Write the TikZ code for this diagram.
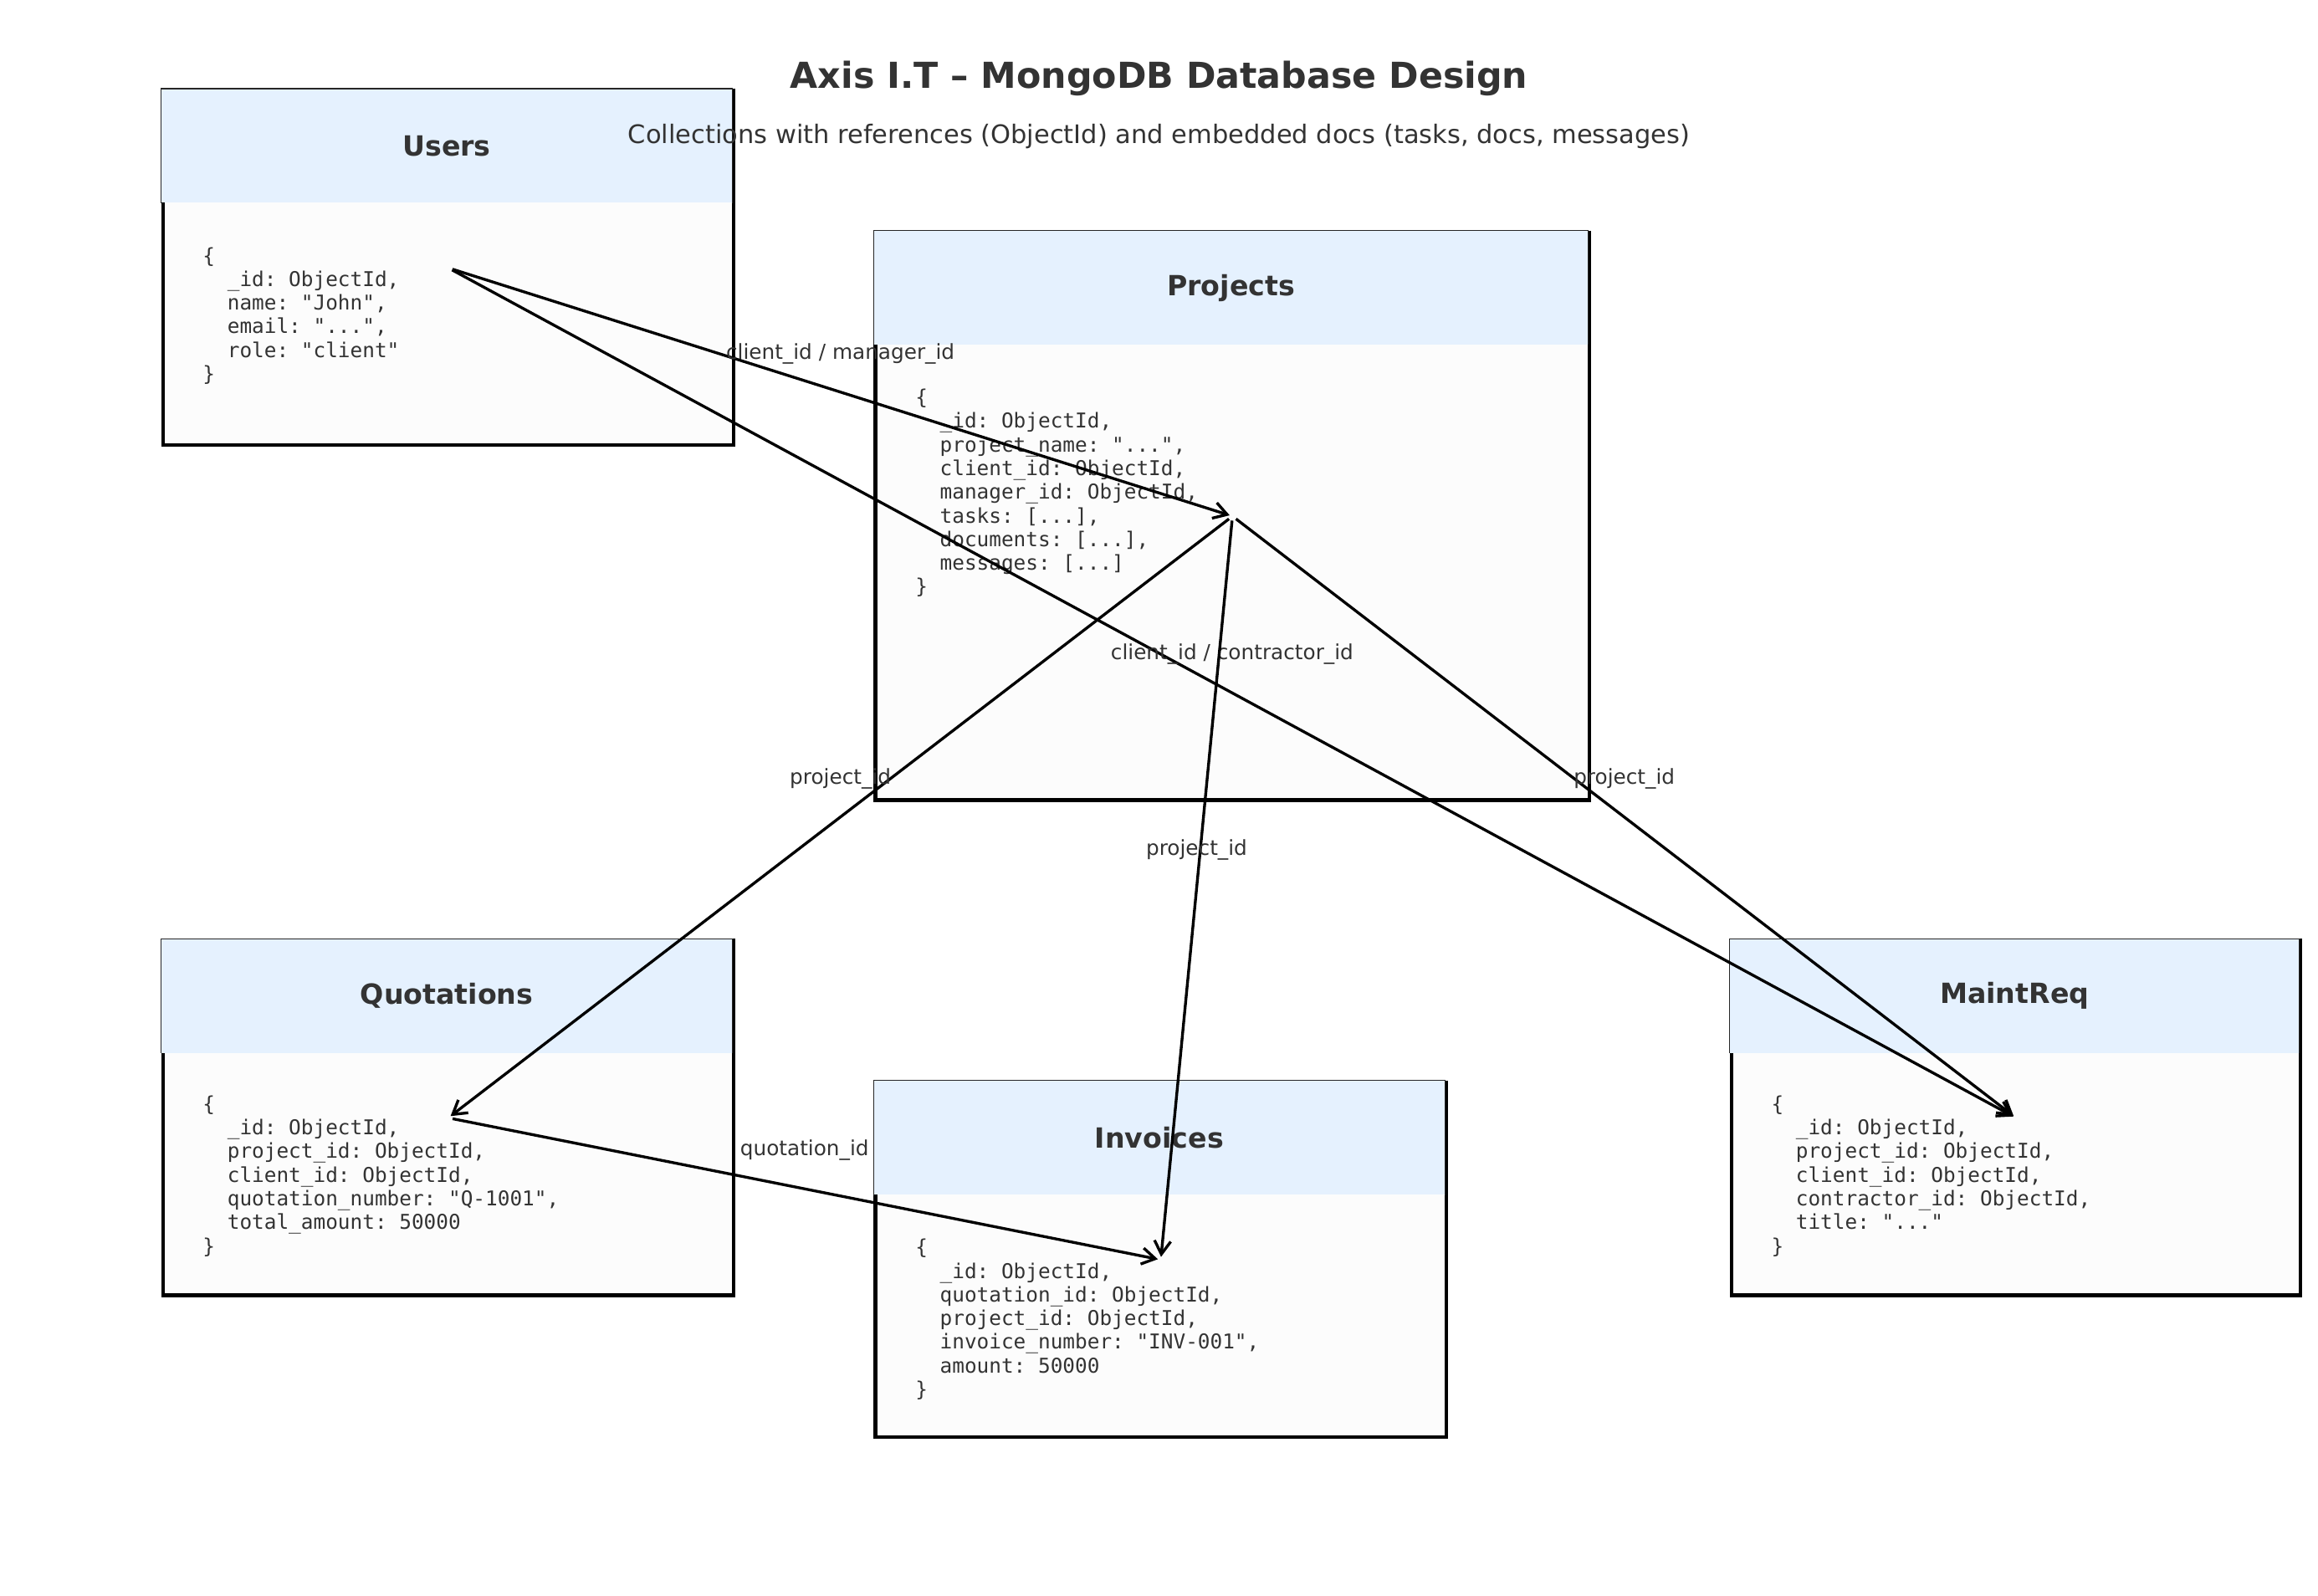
\documentclass[tikz,border=0pt]{standalone}
\usepackage{fontspec}
\setmainfont{DejaVu Sans}
\setmonofont{DejaVu Sans Mono}
\usetikzlibrary{arrows.meta}
\definecolor{hdr}{HTML}{E5F1FE}
\definecolor{bodyc}{HTML}{FCFCFC}
\definecolor{txt}{HTML}{333333}
\newcommand\ii{\phantom{xx}}
\begin{document}
\begin{tikzpicture}[x=1pt,y=-1pt,
  card/.style={draw=black, line width=2.4pt, fill=bodyc, anchor=north west, inner sep=0pt},
  hdrbox/.style={fill=hdr, anchor=north west, inner sep=0pt, minimum height=77pt,
    font=\bfseries\fontsize{18.8}{22}\selectfont, text=txt},
  hdredge/.style={draw=black!85, line width=0.7pt},
  code/.style={anchor=north west, inner sep=0pt, align=left,
    font=\ttfamily\fontsize{13.8}{16}\selectfont, text=txt},
  conn/.style={-{Straight Barb[length=9pt,width=11pt]}, line width=1.9pt, shorten <=3pt, shorten >=2pt},
  lbl/.style={midway, yshift=26pt, font=\fontsize{14}{16}\selectfont, text=txt, inner sep=0pt}
]
\useasboundingbox[fill=white] (0,0) rectangle (1568,1079.1);

% cards
\node[card, minimum width=386pt, minimum height=240pt] (users) at (109,60) {};
\node[hdrbox, minimum width=386pt] (usersH) at (109,60) {Users};
\draw[hdredge] (usersH.south west) -- (usersH.north west) -- (usersH.north east) -- (usersH.south east);
\node[code] (usersT) at (137,167) {\{\\\ii\_id: ObjectId,\\\ii name: "John",\\\ii email: "...",\\\ii role: "client"\\\}};

\node[card, minimum width=483pt, minimum height=384pt] (projects) at (591,156) {};
\node[hdrbox, minimum width=483pt] (projectsH) at (591,156) {Projects};
\draw[hdredge] (projectsH.south west) -- (projectsH.north west) -- (projectsH.north east) -- (projectsH.south east);
\node[code] (projectsT) at (619,263) {\{\\\ii\_id: ObjectId,\\\ii project\_name: "...",\\\ii client\_id: ObjectId,\\\ii manager\_id: ObjectId,\\\ii tasks: [...],\\\ii documents: [...],\\\ii messages: [...]\\\}};

\node[card, minimum width=386pt, minimum height=240pt] (quotations) at (109,635) {};
\node[hdrbox, minimum width=386pt] (quotationsH) at (109,635) {Quotations};
\draw[hdredge] (quotationsH.south west) -- (quotationsH.north west) -- (quotationsH.north east) -- (quotationsH.south east);
\node[code] (quotationsT) at (137,741) {\{\\\ii\_id: ObjectId,\\\ii project\_id: ObjectId,\\\ii client\_id: ObjectId,\\\ii quotation\_number: "Q-1001",\\\ii total\_amount: 50000\\\}};

\node[card, minimum width=386pt, minimum height=240pt] (invoices) at (591,731) {};
\node[hdrbox, minimum width=386pt] (invoicesH) at (591,731) {Invoices};
\draw[hdredge] (invoicesH.south west) -- (invoicesH.north west) -- (invoicesH.north east) -- (invoicesH.south east);
\node[code] (invoicesT) at (619,838) {\{\\\ii\_id: ObjectId,\\\ii quotation\_id: ObjectId,\\\ii project\_id: ObjectId,\\\ii invoice\_number: "INV-001",\\\ii amount: 50000\\\}};

\node[card, minimum width=385pt, minimum height=240pt] (maint) at (1170,635) {};
\node[hdrbox, minimum width=385pt] (maintH) at (1170,635) {MaintReq};
\draw[hdredge] (maintH.south west) -- (maintH.north west) -- (maintH.north east) -- (maintH.south east);
\node[code] (maintT) at (1198,741) {\{\\\ii\_id: ObjectId,\\\ii project\_id: ObjectId,\\\ii client\_id: ObjectId,\\\ii contractor\_id: ObjectId,\\\ii title: "..."\\\}};

% titles
\node[font=\bfseries\fontsize{24.2}{28}\selectfont, text=txt] (title) at (784,53) {Axis I.T – MongoDB Database Design};
\node[font=\fontsize{17.25}{20}\selectfont, text=txt] (subtitle) at (784,92) {Collections with references (ObjectId) and embedded docs (tasks, docs, messages)};

% connectors
\draw[conn] (users.center) -- (projects.center) node[lbl] {client\_id / manager\_id};
\draw[conn] (users.center) -- (maint.center) node[lbl] {client\_id / contractor\_id};
\draw[conn] (projects.center) -- (quotations.center) node[lbl] {project\_id};
\draw[conn] (projects.center) -- (invoices.center) node[lbl] {project\_id};
\draw[conn] (projects.center) -- (maint.center) node[lbl] {project\_id};
\draw[conn] (quotations.center) -- (invoices.center) node[lbl] {quotation\_id};
\end{tikzpicture}
\end{document}
